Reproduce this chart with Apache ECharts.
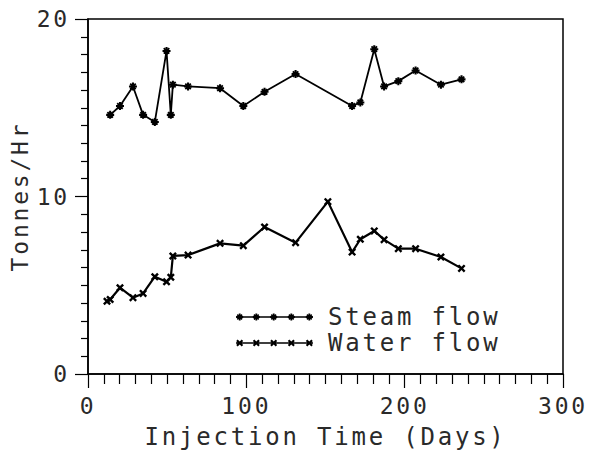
<!DOCTYPE html>
<html>
<head>
<meta charset="utf-8">
<script src="https://cdn.jsdelivr.net/npm/echarts@6/dist/echarts.min.js"></script>
<style>
html,body{margin:0;padding:0;background:#fff;}
#chart{width:589px;height:455px;}
#chart svg text{letter-spacing:2.8px;}
</style>
</head>
<body>
<div id="chart"></div>
<script>
// ---- data ----
const steamDays = [14.0, 20.2, 28.4, 34.8, 42.2, 49.6, 52.3, 53.6, 63.2, 83.4, 98.1, 111.5, 131.1, 166.8, 172.0, 180.8, 187.0, 196.0, 206.9, 222.9, 235.9];
const steamFlow = [14.6, 15.1, 16.2, 14.6, 14.2, 18.2, 14.6, 16.3, 16.2, 16.1, 15.1, 15.9, 16.9, 15.1, 15.3, 18.3, 16.2, 16.5, 17.1, 16.3, 16.6];
const waterDays = [12.0, 14.0, 20.2, 28.4, 34.8, 42.2, 49.6, 52.3, 53.6, 63.2, 83.4, 98.1, 111.5, 131.1, 151.5, 166.8, 172.0, 180.8, 187.0, 196.0, 206.9, 222.9, 235.9];
const waterFlow = [4.1, 4.2, 4.86, 4.3, 4.54, 5.48, 5.2, 5.45, 6.65, 6.7, 7.36, 7.23, 8.28, 7.4, 9.71, 6.87, 7.59, 8.06, 7.57, 7.06, 7.06, 6.59, 5.95];
const seriesNames = ['Steam flow', 'Water flow'];
const xTitle = 'Injection Time (Days)';
const yTitle = 'Tonnes/Hr';

// ---- marker shapes ----
function crossPts(cx, cy, r, w) {
  const p = [[-r,-r+w],[-r+w,-r],[0,-w],[r-w,-r],[r,-r+w],[w,0],[r,r-w],[r-w,r],[0,w],[-r+w,r],[-r,r-w],[-w,0]];
  return 'M' + p.map(q => (cx+q[0]).toFixed(2)+','+(cy+q[1]).toFixed(2)).join('L') + 'Z';
}
function plusPts(cx, cy, r, w) {
  const p = [[-w,-r],[w,-r],[w,-w],[r,-w],[r,w],[w,w],[w,r],[-w,r],[-w,w],[-r,w],[-r,-w],[-w,-w]];
  return 'M' + p.map(q => (cx+q[0]).toFixed(2)+','+(cy+q[1]).toFixed(2)).join('L') + 'Z';
}
function marker(kind, cx, cy, r) {
  if (kind === 'star') return crossPts(cx, cy, r*0.85, r*0.32) + plusPts(cx, cy, r, r*0.26);
  return crossPts(cx, cy, r, r*0.42);
}
function legendIcon(kind) {
  let p = 'M0,3.2L77,3.2L77,4.8L0,4.8Z';
  [3.7, 20.3, 37.7, 55.3, 73.3].forEach(c => { p += marker(kind, c, 4, 3.5); });
  return 'path://' + p;
}
const starSym = 'path://' + marker('star', 5, 5, 5);
const crossSym = 'path://' + marker('cross', 5, 5, 5);

const FONT = 'DejaVu Sans Mono';
const TXT = '#2a2a2a';
const chart = echarts.init(document.getElementById('chart'), null, {renderer: 'svg'});
chart.setOption({
  animation: false,
  backgroundColor: '#fff',
  grid: {left: 87, right: 26, top: 19, bottom: 81, show: true, borderColor: '#000', borderWidth: 1.5},
  legend: {
    orient: 'vertical', left: 231, top: 300,
    itemWidth: 77, itemHeight: 7, itemGap: 2,
    textStyle: {fontFamily: FONT, fontSize: 24, color: TXT, lineHeight: 24, padding: [0,0,0,10]},
    data: [
      {name: seriesNames[0], icon: legendIcon('star')},
      {name: seriesNames[1], icon: legendIcon('cross')}
    ]
  },
  xAxis: {
    type: 'value', min: 0, max: 300, interval: 100,
    name: xTitle, nameLocation: 'middle', nameGap: 51,
    nameTextStyle: {fontFamily: FONT, fontSize: 24, color: TXT},
    axisLine: {show: true, lineStyle: {color: '#000', width: 1.5}},
    axisTick: {show: true, length: 14, lineStyle: {color: '#000', width: 1.2}},
    minorTick: {show: true, splitNumber: 10, length: 10, lineStyle: {color: '#000', width: 1.2}},
    axisLabel: {margin: 20, fontFamily: FONT, fontSize: 23, color: TXT},
    splitLine: {show: false}
  },
  yAxis: {
    type: 'value', min: 0, max: 20, interval: 10,
    name: yTitle, nameLocation: 'middle', nameGap: 57, nameRotate: 90,
    nameTextStyle: {fontFamily: FONT, fontSize: 23, color: TXT},
    axisLine: {show: true, lineStyle: {color: '#000', width: 1.5}},
    axisTick: {show: true, length: 13, lineStyle: {color: '#000', width: 1.2}},
    minorTick: {show: true, splitNumber: 10, length: 7, lineStyle: {color: '#000', width: 1.2}},
    axisLabel: {margin: 18, fontFamily: FONT, fontSize: 23, color: TXT},
    splitLine: {show: false}
  },
  series: [
    {
      name: seriesNames[0], type: 'line',
      data: steamDays.map((d, i) => [d, steamFlow[i]]),
      symbol: starSym, symbolSize: 8, showSymbol: true,
      lineStyle: {color: '#000', width: 1.8},
      itemStyle: {color: '#000'}
    },
    {
      name: seriesNames[1], type: 'line',
      data: waterDays.map((d, i) => [d, waterFlow[i]]),
      symbol: crossSym, symbolSize: 8, showSymbol: true,
      lineStyle: {color: '#000', width: 2.2},
      itemStyle: {color: '#000'}
    }
  ]
});
</script>
</body>
</html>
